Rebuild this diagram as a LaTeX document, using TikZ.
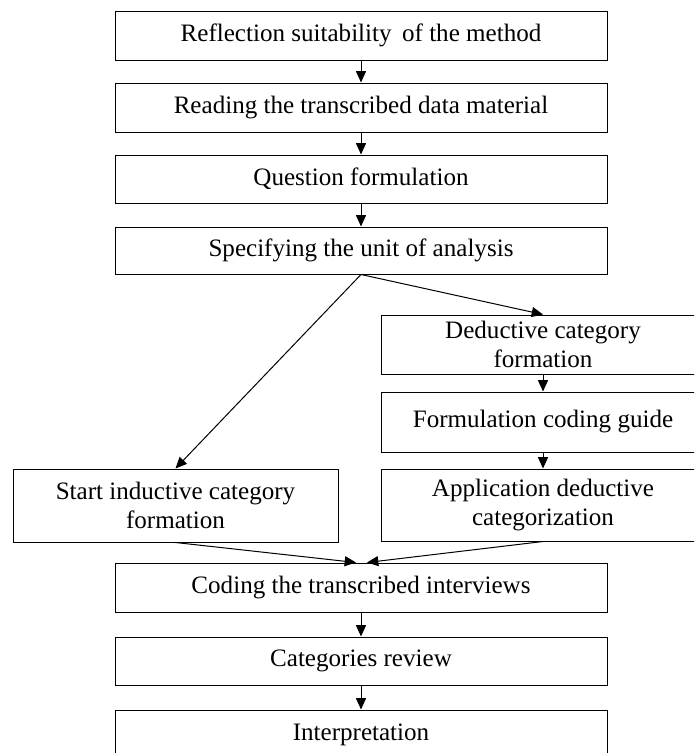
\documentclass[tikz,border=0pt]{standalone}
\usepackage{fontspec}
\setmainfont{Liberation Serif}
\usetikzlibrary{arrows.meta,calc}
\begin{document}
\begin{tikzpicture}[x=0.75pt,y=-0.75pt,
  box/.style={draw=black,line width=0.75pt,rectangle,inner sep=0pt,align=center,
    font=\fontsize{18.8}{22}\selectfont},
  mainbox/.style={box,minimum width=369pt},
  rbox/.style={box,minimum width=243pt},
  arr/.style={draw=black,line width=0.75pt,-{Triangle[length=8.5pt,width=7.5pt]}}]
\useasboundingbox (0,0) rectangle (694,753);
\clip (0,0) rectangle (694,753);
\node[mainbox,minimum height=36.75pt] (b1) at (361,35.5) {Reflection suitability\, of the method};
\node[mainbox,minimum height=36.75pt] (b2) at (361,107.5) {Reading the transcribed data material};
\node[mainbox,minimum height=36pt] (b3) at (361,179) {Question formulation};
\node[mainbox,minimum height=35.25pt] (b4) at (361,250.5) {Specifying the unit of analysis};
\node[rbox,minimum height=44.25pt] (ded) at (543,344.5) {Deductive category\\formation};
\node[rbox,minimum height=45pt] (guide) at (543,422) {Formulation coding guide};
\node[rbox,minimum height=54pt] (app) at (543,505) {Application deductive\\categorization};
\node[box,minimum width=243.75pt,minimum height=54.75pt] (ind) at (175.5,505.5) {Start inductive category\\formation};
\node[mainbox,minimum height=36.75pt] (code) at (361,587.5) {Coding the transcribed interviews};
\node[mainbox,minimum height=36pt] (rev) at (361,661) {Categories review};
\node[mainbox,minimum height=36.75pt] (interp) at (361,734.5) {Interpretation};
\draw[arr] (b1) -- (b2);
\draw[arr] (b2) -- (b3);
\draw[arr] (b3) -- (b4);
\draw[arr] (b4.south) -- (ind.north);
\draw[arr] (b4.south) -- (ded.north);
\draw[arr] (ded) -- (guide);
\draw[arr] (guide) -- (app);
\draw[arr] (ind.south) -- ($(code.north)+(-5,0)$);
\draw[arr] (app.south) -- ($(code.north)+(6,0)$);
\draw[arr] (code) -- (rev);
\draw[arr] (rev) -- (interp);
\end{tikzpicture}
\end{document}
